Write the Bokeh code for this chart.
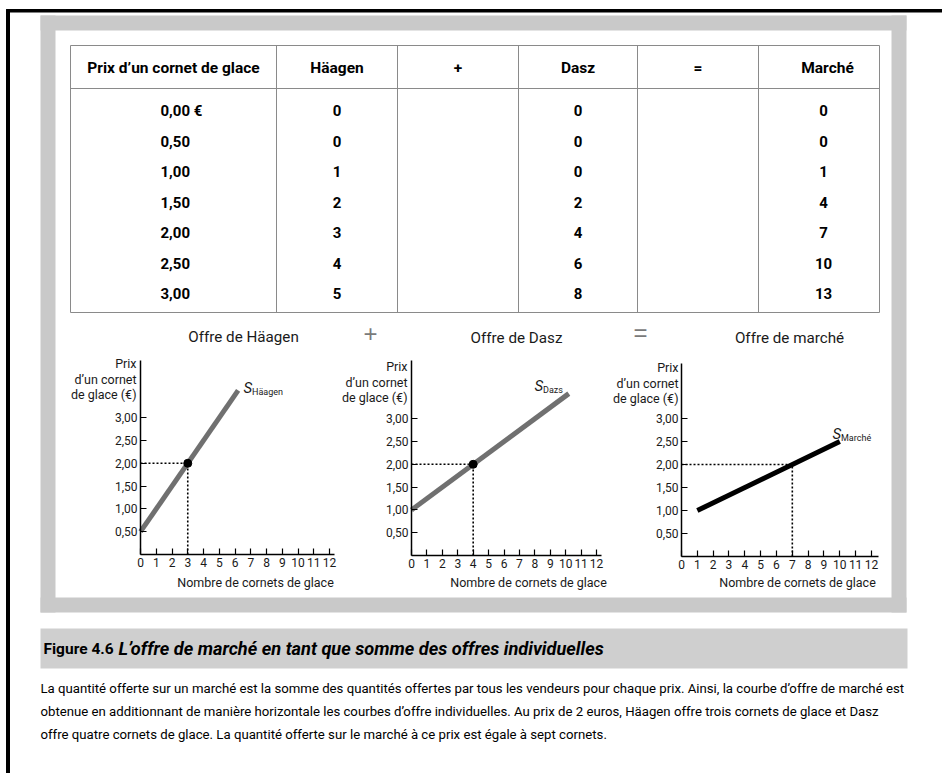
from bokeh.plotting import figure
from bokeh.models import Range1d, FixedTicker, CustomJSTickFormatter, LinearAxis
from bokeh.embed import file_html
from bokeh.resources import INLINE
from bokeh.core.properties import value

# ---------------- data ----------------
prices = [0.00, 0.50, 1.00, 1.50, 2.00, 2.50, 3.00]
price_labels = ["0,00 €", "0,50", "1,00", "1,50", "2,00", "2,50", "3,00"]
haagen = [0, 0, 1, 2, 3, 4, 5]
dasz = [0, 0, 0, 2, 4, 6, 8]
marche = [0, 0, 1, 4, 7, 10, 13]
headers = ["Prix d’un cornet de glace", "Häagen", "+", "Dasz", "=", "Marché"]

# supply curves as drawn
haagen_curve_q = [0.0, 6.2]
haagen_curve_p = [0.50, 3.60]
dasz_curve_q = [0.0, 10.2]
dasz_curve_p = [1.00, 3.55]
marche_curve_q = [1.0, 10.0]
marche_curve_p = [1.00, 2.50]

eq_index = 4  # price 2,00
qty_ticks = list(range(13))
price_ticks = [0.5, 1.0, 1.5, 2.0, 2.5, 3.0]

chart_titles = ["Offre de Häagen", "Offre de Dasz", "Offre de marché"]
curve_subs = ["Häagen", "Dazs", "Marché"]
y_label_lines = ["Prix", "d’un cornet", "de glace (€)"]
x_label = "Nombre de cornets de glace"

fig_title = "Figure 4.6"
fig_subtitle = "L’offre de marché en tant que somme des offres individuelles"
caption_lines = [
    "La quantité offerte sur un marché est la somme des quantités offertes par tous les vendeurs pour chaque prix. Ainsi, la courbe d’offre de marché est",
    "obtenue en additionnant de manière horizontale les courbes d’offre individuelles. Au prix de 2 euros, Häagen offre trois cornets de glace et Dasz",
    "offre quatre cornets de glace. La quantité offerte sur le marché à ce prix est égale à sept cornets.",
]

FONT = "Roboto"
BAND = "#c9c9c9"
TXT = "#1a1a1a"
W, H = 942, 773

p = figure(width=W, height=H, x_range=Range1d(0, W), y_range=Range1d(H, 0),
           x_axis_type=None, y_axis_type=None, toolbar_location=None,
           output_backend="svg", min_border=0)
p.grid.visible = False
p.outline_line_color = None
p.background_fill_color = "white"
p.border_fill_color = "white"


def txt(xs, ys, texts, size, align="center", style="normal", color="black", font=FONT):
    p.text(x=xs, y=ys, text=texts, text_font=value(font), text_font_size=size,
           text_font_style=style, text_align=align, text_baseline="middle", text_color=color)


# ---------------- page frame / scan borders ----------------
p.quad(left=[6], right=[9], top=[9], bottom=[H], color="black")
p.quad(left=[6], right=[W], top=[9], bottom=[11.5], color="black")
p.quad(left=[40, 40, 891, 40], right=[906, 55, 906, 906],
       top=[15, 15, 15, 597], bottom=[30, 612, 612, 612],
       fill_color=BAND, line_color=None)

# ---------------- table ----------------
col_edges = [70, 276, 397, 518, 637, 758, 879]
t_top, t_head, t_bot = 45, 88, 312
p.segment(x0=[70] * 3, x1=[879] * 3, y0=[t_top, t_head, t_bot], y1=[t_top, t_head, t_bot],
          line_color="#8a8a8a", line_width=1)
p.segment(x0=col_edges, x1=col_edges, y0=[t_top] * 7, y1=[t_bot] * 7,
          line_color="#8a8a8a", line_width=1)
centers = [(col_edges[i] + col_edges[i + 1]) / 2 for i in range(6)]
txt(centers[:5] + [827], [67] * 6, headers, "15.5px", style="bold")

row_y = [110 + 30.5 * i for i in range(len(prices))]
txt([160] * len(prices), row_y, price_labels, "15px", align="left", style="bold")
for xs, vals in ((centers[1], haagen), (centers[3], dasz), (823, marche)):
    txt([xs] * len(vals), row_y, [str(v) for v in vals], "15px", style="bold")

# ---------------- charts ----------------
charts = [
    dict(ax=140, ay=554, kx=15.75, ky=45.6, xe=12.3, ye=4.25),
    dict(ax=411, ay=555, kx=15.42, ky=45.6, xe=12.3, ye=4.28),
    dict(ax=681, ay=556, kx=15.83, ky=46.0, xe=12.44, ye=4.2),
]
names = []
for k, c in enumerate(charts):
    qn, pn = f"q{k}", f"p{k}"
    names.append((qn, pn))
    p.extra_x_ranges[qn] = Range1d(-c["ax"] / c["kx"], (W - c["ax"]) / c["kx"])
    p.extra_y_ranges[pn] = Range1d((c["ay"] - H) / c["ky"], c["ay"] / c["ky"])
    xa = LinearAxis(x_range_name=qn, y_range_name=pn, fixed_location=0, bounds=(0, c["xe"]),
                    ticker=FixedTicker(ticks=qty_ticks))
    ya = LinearAxis(x_range_name=qn, y_range_name=pn, fixed_location=0, bounds=(0, c["ye"]),
                    ticker=FixedTicker(ticks=price_ticks),
                    formatter=CustomJSTickFormatter(code="return tick.toFixed(2).replace('.', ',');"))
    for a in (xa, ya):
        a.major_tick_in = 6
        a.major_tick_out = 0
        a.minor_tick_in = 0
        a.minor_tick_out = 0
        a.axis_line_width = 1.5
        a.axis_line_color = "black"
        a.major_tick_line_width = 1.2
        a.major_tick_line_color = "black"
        a.major_label_text_font = FONT
        a.major_label_text_font_size = "12px"
        a.major_label_text_color = TXT
        a.major_label_standoff = 3
    p.add_layout(xa, "below")
    p.add_layout(ya, "left")

eq_p = prices[eq_index]
curves = [
    (haagen_curve_q, haagen_curve_p, "#707070", haagen[eq_index], True),
    (dasz_curve_q, dasz_curve_p, "#707070", dasz[eq_index], True),
    (marche_curve_q, marche_curve_p, "black", marche[eq_index], False),
]
for (qn, pn), (cq, cp, col, qe, dot) in zip(names, curves):
    p.line([0, qe], [eq_p, eq_p], x_range_name=qn, y_range_name=pn,
           line_color="black", line_width=1.6, line_dash="2 2")
    p.line([qe, qe], [0, eq_p], x_range_name=qn, y_range_name=pn,
           line_color="black", line_width=1.6, line_dash="2 2")
    p.line(cq, cp, x_range_name=qn, y_range_name=pn, line_color=col, line_width=5)
    if dot:
        p.scatter([qe], [eq_p], x_range_name=qn, y_range_name=pn, size=8, color="black")

# chart texts (page positions)
txt([243, 516, 789], [336, 337, 337], chart_titles, "15.2px", color=TXT)
txt([255, 528, 797], [582, 582, 582], [x_label] * 3, "12.5px", color=TXT)
txt([370, 640], [333, 332], ["+", "="], "24px", color="#7a7a7a", font="Liberation Sans")
ylab_x = [136, 407, 678]
ylab_y0 = [363, 366, 367]
for xr, y0 in zip(ylab_x, ylab_y0):
    txt([xr] * 3, [y0, y0 + 15.5, y0 + 31], y_label_lines, "12.5px", align="right", color=TXT)
s_pos = [(243, 387), (534, 385), (832, 433)]
txt([s[0] for s in s_pos], [s[1] for s in s_pos], ["S"] * 3, "15px", align="left",
    style="italic", color=TXT)
txt([s[0] + 8.5 for s in s_pos], [s[1] + 4 for s in s_pos], curve_subs, "9px", align="left",
    color=TXT)

# ---------------- caption ----------------
p.quad(left=[40], right=[907], top=[628], bottom=[668], fill_color="#cfcfcf", line_color=None)
txt([43], [648], [fig_title], "15.5px", align="left", style="bold")
txt([118], [648], [fig_subtitle], "18.2px", align="left", style="bold italic")
txt([40] * 3, [688, 711, 734], caption_lines, "13.2px", align="left", color="black")

open("out.html", "w").write(file_html(p, INLINE))
